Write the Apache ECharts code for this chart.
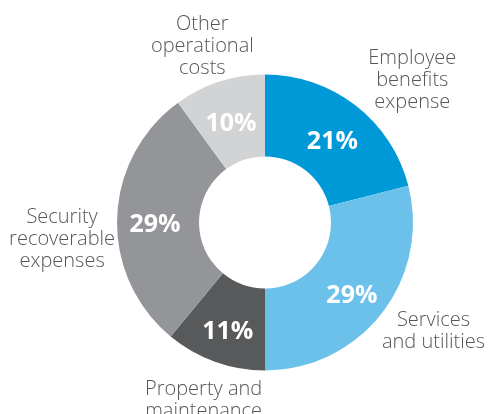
<!DOCTYPE html>
<html><head><meta charset="utf-8">
<script src="https://cdn.jsdelivr.net/npm/echarts@6/dist/echarts.min.js"></script>
<style>html,body{margin:0;padding:0;background:#fff}#c{width:488px;height:414px}</style>
</head><body><div id="c"></div>
<script>
const categories = ["Employee\nbenefits\nexpense", "Services\nand utilities", "Property and\nmaintenance", "Security\nrecoverable\nexpenses", "Other\noperational\ncosts"];
const values = [21, 29, 11, 29, 10];
const colors = ["#0099d8", "#6cc1ea", "#58595b", "#939598", "#d1d3d4"];

const data = categories.map((n, i) => ({ name: n, value: values[i], itemStyle: { color: colors[i] } }));
const labelNudge = [[24, 10], [11, -9], [9, -4], [-5, 23], [2, 7]];
const chart = echarts.init(document.getElementById('c'), null, { renderer: 'canvas' });
chart.setOption({
  animation: false,
  series: [
    {
      type: 'pie', center: [265, 222.5], radius: [66, 148], startAngle: 90, clockwise: true,
      avoidLabelOverlap: false, silent: true,
      data: data,
      label: { show: true, position: 'inside', formatter: '{c}%', color: '#fff',
        fontFamily: 'Open Sans', fontWeight: 'bold', fontSize: 25 },
      labelLine: { show: false },
      labelLayout: function () { return { dy: 6 }; }
    },
    {
      type: 'pie', center: [265, 222.5], radius: [66, 148], startAngle: 90, clockwise: true,
      avoidLabelOverlap: false, silent: true,
      data: data.map(d => ({ name: d.name, value: d.value })),
      itemStyle: { color: 'rgba(0,0,0,0)' },
      label: { show: true, position: 'outside', formatter: '{b}', color: '#555658',
        fontFamily: 'Open Sans', fontWeight: 300, fontSize: 20, lineHeight: 22 },
      labelLine: { show: false, length: 45, length2: 0 },
      labelLayout: function (p) {
        const n = labelNudge[p.dataIndex];
        return { align: 'center', verticalAlign: 'middle', dx: n[0], dy: n[1] };
      }
    }
  ]
});
</script></body></html>
